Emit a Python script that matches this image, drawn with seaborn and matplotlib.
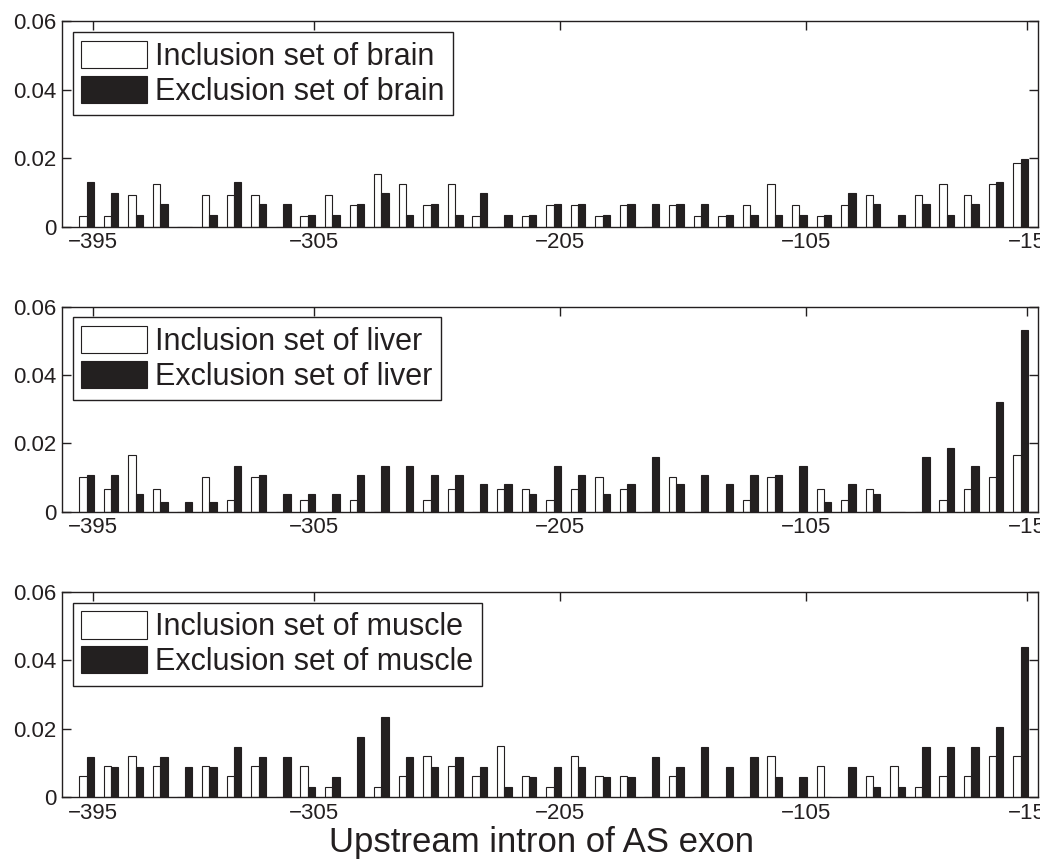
import matplotlib
matplotlib.use("Agg")
import matplotlib.pyplot as plt
import seaborn as sns
import pandas as pd

# ── data ────────────────────────────────────────────────────────────────────
positions = [str(p) for p in range(-395, -14, 10)]   # 39 bins upstream of exon
tick_index = [0, 9, 19, 29, 38]
tick_labels = ["\u2212395", "\u2212305", "\u2212205", "\u2212105", "\u221215"]

brain_incl = [0.0031, 0.0031, 0.0093, 0.0124, 0, 0.0093, 0.0093, 0.0093, 0, 0.0031,
              0.0093, 0.0062, 0.0155, 0.0124, 0.0062, 0.0124, 0.0031, 0, 0.0031, 0.0062,
              0.0062, 0.0031, 0.0062, 0, 0.0062, 0.0031, 0.0031, 0.0062, 0.0124, 0.0062,
              0.0031, 0.0062, 0.0093, 0, 0.0093, 0.0124, 0.0093, 0.0124, 0.0186]
brain_excl = [0.0131, 0.0098, 0.0033, 0.0066, 0, 0.0033, 0.0131, 0.0066, 0.0066, 0.0033,
              0.0033, 0.0066, 0.0098, 0.0033, 0.0066, 0.0033, 0.0098, 0.0033, 0.0033, 0.0066,
              0.0066, 0.0033, 0.0066, 0.0066, 0.0066, 0.0066, 0.0033, 0.0033, 0.0033, 0.0033,
              0.0033, 0.0098, 0.0066, 0.0033, 0.0066, 0.0033, 0.0066, 0.0131, 0.0197]

liver_incl = [0.0100, 0.0067, 0.0167, 0.0067, 0, 0.0100, 0.0033, 0.0100, 0, 0.0033,
              0, 0.0033, 0, 0, 0.0033, 0.0067, 0, 0.0067, 0.0067, 0.0033,
              0.0067, 0.0100, 0.0067, 0, 0.0100, 0, 0, 0.0033, 0.0100, 0,
              0.0067, 0.0033, 0.0067, 0, 0, 0.0033, 0.0067, 0.0100, 0.0167]
liver_excl = [0.0107, 0.0107, 0.0053, 0.0027, 0.0027, 0.0027, 0.0133, 0.0107, 0.0053, 0.0053,
              0.0053, 0.0107, 0.0133, 0.0133, 0.0107, 0.0107, 0.0080, 0.0080, 0.0053, 0.0133,
              0.0107, 0.0053, 0.0080, 0.0160, 0.0080, 0.0107, 0.0080, 0.0107, 0.0107, 0.0133,
              0.0027, 0.0080, 0.0053, 0, 0.0160, 0.0187, 0.0133, 0.0320, 0.0533]

muscle_incl = [0.006, 0.009, 0.012, 0.009, 0, 0.009, 0.006, 0.009, 0, 0.009,
               0.003, 0, 0.003, 0.006, 0.012, 0.009, 0.006, 0.015, 0.006, 0.003,
               0.012, 0.006, 0.006, 0, 0.006, 0, 0, 0, 0.012, 0,
               0.009, 0, 0.006, 0.009, 0.003, 0.006, 0.006, 0.012, 0.012]
muscle_excl = [0.0117, 0.0088, 0.0088, 0.0117, 0.0088, 0.0088, 0.0146, 0.0117, 0.0117, 0.0029,
               0.0059, 0.0176, 0.0234, 0.0117, 0.0088, 0.0117, 0.0088, 0.0029, 0.0059, 0.0088,
               0.0088, 0.0059, 0.0059, 0.0117, 0.0088, 0.0146, 0.0088, 0.0117, 0.0059, 0.0059,
               0, 0.0088, 0.0029, 0.0029, 0.0146, 0.0146, 0.0146, 0.0205, 0.0439]

tissues = ["brain", "liver", "muscle"]
incl_sets = [brain_incl, liver_incl, muscle_incl]
excl_sets = [brain_excl, liver_excl, muscle_excl]

# ── style ───────────────────────────────────────────────────────────────────
DARK = "#231f20"
sns.set_style("ticks")
plt.rcParams.update({
    "font.family": ["Liberation Sans", "DejaVu Sans"],
    "xtick.direction": "in",
    "ytick.direction": "in",
    "xtick.major.size": 6.5,
    "ytick.major.size": 6.5,
    "xtick.major.width": 1.0,
    "ytick.major.width": 1.0,
    "axes.linewidth": 1.0,
    "axes.edgecolor": DARK,
    "xtick.color": DARK,
    "ytick.color": DARK,
    "text.color": DARK,
    "axes.labelcolor": DARK,
})

fig = plt.figure(figsize=(10.4, 8.63), dpi=100)
bottoms = [0.7375, 0.4071, 0.0765]
left, width, height = 62 / 1040, 976 / 1040, 0.2376

for i, tissue in enumerate(tissues):
    ax = fig.add_axes([left, bottoms[i], width, height])
    lab_in = f"Inclusion set of {tissue}"
    lab_ex = f"Exclusion set of {tissue}"
    df = pd.DataFrame({
        "pos": positions * 2,
        "value": incl_sets[i] + excl_sets[i],
        "set": [lab_in] * len(positions) + [lab_ex] * len(positions),
    })
    sns.barplot(data=df, x="pos", y="value", hue="set", order=positions,
                hue_order=[lab_in, lab_ex], palette=["white", DARK],
                width=0.6, edgecolor=DARK, linewidth=0.8, errorbar=None,
                ax=ax, legend=True)

    ax.set_xlim(-0.997, 38.71)
    ax.set_ylim(0, 0.06)
    ax.set_xticks([t + 0.26 for t in tick_index])
    ax.set_xticklabels(tick_labels, fontsize=16)
    ax.set_yticks([0, 0.02, 0.04, 0.06])
    ax.set_yticklabels(["0", "0.02", "0.04", "0.06"], fontsize=16)
    ax.tick_params(top=True, right=True, pad=4)
    ax.set_xlabel("")
    ax.set_ylabel("")

    handles, labels = ax.get_legend_handles_labels()
    ax.legend(handles, labels, loc="upper left", fontsize=22, frameon=True,
              fancybox=False, edgecolor=DARK, framealpha=1,
              handlelength=2.16, handleheight=1.0, handletextpad=0.25,
              labelspacing=0.12, borderpad=0.28, borderaxespad=0.35)
    ax.get_legend().get_frame().set_linewidth(1.0)

    if i == 2:
        ax.set_xlabel("Upstream intron of AS exon", fontsize=25, labelpad=2)
        ax.xaxis.label.set_x(0.491)

fig.savefig("out.png", dpi=100)
